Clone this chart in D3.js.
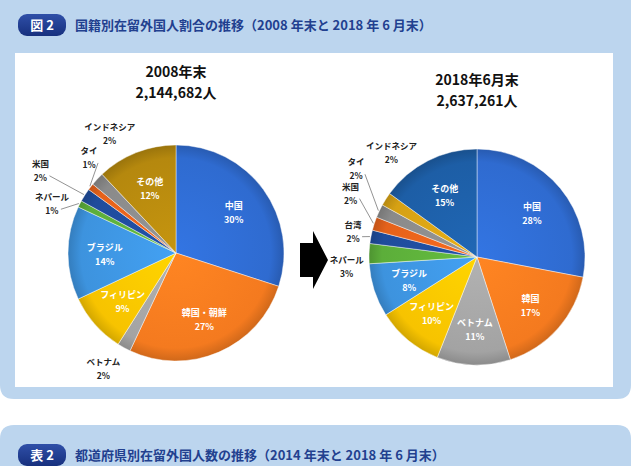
<!DOCTYPE html>
<html><head><meta charset="utf-8">
<script src="https://cdn.jsdelivr.net/npm/d3@7"></script>
<style>html,body{margin:0;padding:0;background:#fff;}svg{display:block;font-family:"Noto Sans CJK JP","Noto Sans",sans-serif;}</style>
</head><body>
<svg id="c" width="633" height="466"></svg>
<script>
// ---- data ----
const figTitle = "国籍別在留外国人割合の推移（2008 年末と 2018 年 6 月末）";
const tableTitle = "都道府県別在留外国人数の推移（2014 年末と 2018 年 6 月末）";
const leftTitle = ["2008年末", "2,144,682人"];
const rightTitle = ["2018年6月末", "2,637,261人"];

const cats2008 = ["中国","韓国・朝鮮","ベトナム","フィリピン","ブラジル","ネパール","米国","タイ","インドネシア","その他"];
const vals2008 = [30, 27, 2, 9, 14, 1, 2, 1, 2, 12];
const cols2008 = ["#2f6bd0","#f47a1f","#a3a3a3","#f7c300","#3d93de","#5cae3a","#1f4c9c","#e5621b","#8a8a8a","#b5880e"];
const out2008 = ["ベトナム","ネパール","米国","タイ","インドネシア"];

const cats2018 = ["中国","韓国","ベトナム","フィリピン","ブラジル","ネパール","台湾","米国","タイ","インドネシア","その他"];
const vals2018 = [28, 17, 11, 10, 8, 3, 2, 2, 2, 2, 15];
const cols2018 = ["#2f6bd0","#f47a1f","#a3a3a3","#f7c300","#3d93de","#5cae3a","#1f4c9c","#e5621b","#8a8a8a","#d6a114","#1d5ea6"];
const out2018 = ["ネパール","台湾","米国","タイ","インドネシア"];

// label nudges (relative to computed outside anchor)
const nudge2008 = {"ベトナム":[-5,-8],"ネパール":[1,14],"米国":[-17,-8],"タイ":[24,-10],"インドネシア":[36,-24]};
const nudge2018 = {"ネパール":[10,13],"台湾":[14,0],"米国":[7,-21],"タイ":[6,-29],"インドネシア":[33,-30]};
const leaders2008 = ["ネパール","米国","タイ"];
const leaders2018 = ["台湾","米国","タイ"];

const svg = d3.select("#c");
const defs = svg.append("defs");

// ---- background panels ----
const panel = "#bcd5ee";
svg.append("path").attr("d", (()=>{const p=d3.path();const x0=0,x1=631,y0=-20,y1=399,r=14;
  p.moveTo(x0,y0);p.lineTo(x1,y0);p.lineTo(x1,y1-r);p.quadraticCurveTo(x1,y1,x1-r,y1);p.lineTo(x0+r,y1);p.quadraticCurveTo(x0,y1,x0,y1-r);p.closePath();return p.toString();})())
  .attr("fill", panel);
svg.append("path").attr("d", (()=>{const p=d3.path();const x0=0,x1=631,y0=425,y1=490,r=14;
  p.moveTo(x0,y0+r);p.quadraticCurveTo(x0,y0,x0+r,y0);p.lineTo(x1-r,y0);p.quadraticCurveTo(x1,y0,x1,y0+r);p.lineTo(x1,y1);p.lineTo(x0,y1);p.closePath();return p.toString();})())
  .attr("fill", panel);
svg.append("rect").attr("x",15).attr("y",53).attr("width",598).attr("height",334).attr("fill","#fff");

// badges
const bg = defs.append("linearGradient").attr("id","badge").attr("x1",0).attr("y1",0).attr("x2",0).attr("y2",1);
bg.append("stop").attr("offset","0").attr("stop-color","#2f4fa8");
bg.append("stop").attr("offset","1").attr("stop-color","#17307e");
function badge(y, label, title){
  svg.append("rect").attr("x",18).attr("y",y).attr("width",48).attr("height",22).attr("rx",9).attr("fill","url(#badge)");
  svg.append("text").attr("x",42).attr("y",y+16).attr("text-anchor","middle").attr("fill","#fff")
    .attr("font-size",13).attr("font-weight","bold").text(label);
  svg.append("text").attr("x",75).attr("y",y+16).attr("fill","#22408f")
    .attr("font-size",13).attr("font-weight","bold").text(title);
}
badge(14, "図 2", figTitle);
badge(444, "表 2", tableTitle);

// ---- pies ----
const R = 108;
function drawPie(id, cx, cy, cats, vals, cols, outs, nudge, leaders, titles, titleY){
  const g = svg.append("g").attr("transform", `translate(${cx},${cy})`);
  const pie = d3.pie().sort(null).value(d=>d.v);
  const data = pie(cats.map((c,i)=>({c, v: vals[i], col: cols[i]})));
  const arc = d3.arc().innerRadius(0).outerRadius(R);
  data.forEach((d,i)=>{
    const gid = `${id}g${i}`;
    const rg = defs.append("radialGradient").attr("id",gid).attr("gradientUnits","userSpaceOnUse")
      .attr("cx",cx).attr("cy",cy).attr("r",R);
    const c = d3.color(d.data.col);
    rg.append("stop").attr("offset","0").attr("stop-color", c.brighter(0.25));
    rg.append("stop").attr("offset","0.88").attr("stop-color", c);
    rg.append("stop").attr("offset","1").attr("stop-color", c.darker(0.45));
  });
  g.selectAll("path.s").data(data).join("path").attr("class","s")
    .attr("d", arc)
    .attr("fill", (d,i)=>`url(#${id}g${i})`)
    .attr("transform", `translate(${-cx},${-cy})`)
    .attr("transform", null)
    .attr("stroke", "rgba(255,255,255,0.55)").attr("stroke-width", 0.8);
  // gradients are in user space of g -> adjust: set gradients relative to group origin
  // inner labels
  const inArc = d3.arc().innerRadius(R*0.66).outerRadius(R*0.66);
  data.filter(d=>!outs.includes(d.data.c)).forEach(d=>{
    const [x,y] = inArc.centroid(d);
    g.append("text").attr("x",x).attr("y",y-2).attr("text-anchor","middle").attr("fill","#fff")
      .attr("font-size",9).attr("font-weight","bold").text(d.data.c);
    g.append("text").attr("x",x).attr("y",y+12).attr("text-anchor","middle").attr("fill","#fff")
      .attr("font-size",9).attr("font-weight","bold").text(d.data.v + "%");
  });
  // outside labels
  const outArc = d3.arc().innerRadius(R*1.3).outerRadius(R*1.3);
  const edgeArc = d3.arc().innerRadius(R+1).outerRadius(R+1);
  data.filter(d=>outs.includes(d.data.c)).forEach(d=>{
    let [x,y] = outArc.centroid(d);
    const n = nudge[d.data.c] || [0,0];
    x += n[0]; y += n[1];
    if (leaders.includes(d.data.c)) {
      const [ex,ey] = edgeArc.centroid(d);
      const sx = x + (ex > x ? 9 : 0), sy = y + 6;
      g.append("path").attr("d", `M${sx},${sy}L${ex},${ey}`).attr("stroke","#777").attr("stroke-width",0.8).attr("fill","none");
    }
    g.append("text").attr("x",x).attr("y",y-3).attr("text-anchor","middle").attr("fill","#222")
      .attr("font-size",8.5).attr("font-weight","bold").text(d.data.c);
    g.append("text").attr("x",x).attr("y",y+11).attr("text-anchor","middle").attr("fill","#222")
      .attr("font-size",8.5).attr("font-weight","bold").text(d.data.v + "%");
  });
  // titles
  titles.forEach((t,i)=>{
    svg.append("text").attr("x",cx).attr("y",titleY + i*21).attr("text-anchor","middle").attr("fill","#111")
      .attr("font-size",14).attr("font-weight","bold").text(t);
  });
  return g;
}
// gradients use userSpaceOnUse relative to the g's coordinate system -> center 0,0
function fixGrad(id){ defs.selectAll(`radialGradient[id^="${id}g"]`).attr("cx",0).attr("cy",0); }
drawPie("L", 176, 253, cats2008, vals2008, cols2008, out2008, nudge2008, leaders2008, leftTitle, 77);
drawPie("Rt", 477, 257, cats2018, vals2018, cols2018, out2018, nudge2018, leaders2018, rightTitle, 85);
fixGrad("L"); fixGrad("Rt");

// ---- arrow ----
const ah = d3.path();
ah.moveTo(300,243); ah.lineTo(313,243); ah.lineTo(313,231); ah.lineTo(328,260);
ah.lineTo(313,289); ah.lineTo(313,277); ah.lineTo(300,277); ah.closePath();
svg.append("path").attr("d", ah.toString()).attr("fill","#000");
</script>
</body></html>
